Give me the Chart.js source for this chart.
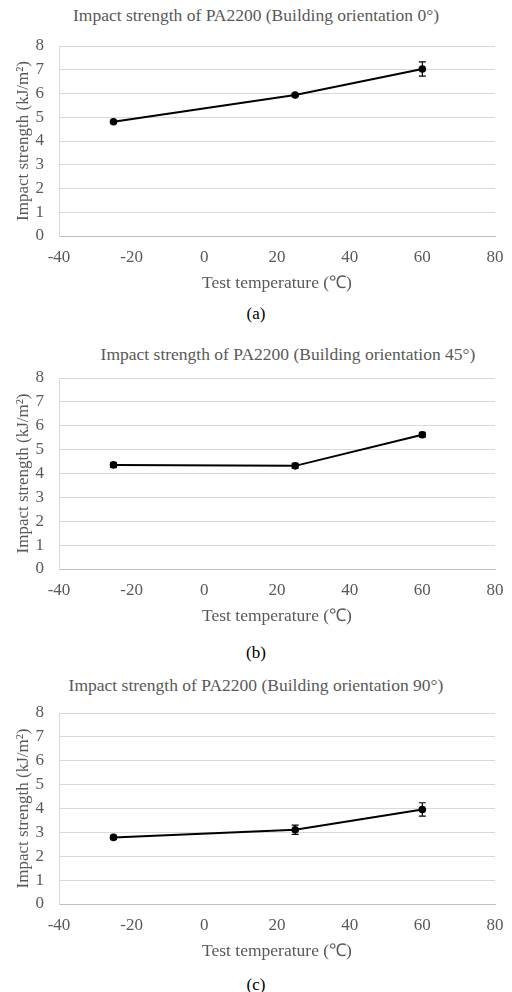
<!DOCTYPE html>
<html>
<head>
<meta charset="utf-8">
<script src="https://cdn.jsdelivr.net/npm/chart.js@4"></script>
<style>
  body { margin: 0; background: #fff; width: 512px; height: 992px; position: relative; overflow: hidden; }
  canvas { position: absolute; left: 0; }
  .title, .caption { position: absolute; left: 0; width: 512px; text-align: center; font-family: "Liberation Serif", serif; white-space: nowrap; line-height: 20px; }
  .title { font-size: 17.5px; color: #595959; }
  .caption { font-size: 17px; color: #000; }
</style>
</head>
<body>
<div class="title" style="top:5px;">Impact strength of PA2200 (Building orientation 0°)</div>
<canvas id="chartA" width="512" height="271" style="top:21px;"></canvas>
<div class="caption" style="top:304px;">(a)</div>

<div class="title" style="top:344px; left:32px;">Impact strength of PA2200 (Building orientation 45°)</div>
<canvas id="chartB" width="512" height="272" style="top:353px;"></canvas>
<div class="caption" style="top:643px;">(b)</div>

<div class="title" style="top:675px;">Impact strength of PA2200 (Building orientation 90°)</div>
<canvas id="chartC" width="512" height="272" style="top:688px;"></canvas>
<div class="caption" style="top:975px;">(c)</div>

<script>
// test temperatures (°C)
const temperatures = [-25, 25, 60];

// impact strength (kJ/m2) and error bars, per building orientation
const strength0 = [4.81, 5.94, 7.03];
const error0 = [0.05, 0.06, 0.30];
const strength45 = [4.36, 4.32, 5.62];
const error45 = [0.10, 0.10, 0.10];
const strength90 = [2.79, 3.11, 3.96];
const error90 = [0.08, 0.19, 0.28];

const xTicks = [-40, -20, 0, 20, 40, 60, 80];
const yTicks = [0, 1, 2, 3, 4, 5, 6, 7, 8];

const textGray = "#595959";
const font = "'Liberation Serif', 'Times New Roman', serif";

// draw vertical error bars with caps using the chart scales
const errorBars = {
    id: "errorBars",
    afterDatasetsDraw(chart) {
        const ctx = chart.ctx;
        const xs = chart.scales.x;
        const ys = chart.scales.y;
        chart.data.datasets.forEach(ds => {
            ds.data.forEach((p, i) => {
                const e = ds.errors[i];
                const x = xs.getPixelForValue(p.x);
                const top = ys.getPixelForValue(p.y + e);
                const bot = ys.getPixelForValue(p.y - e);
                ctx.save();
                ctx.strokeStyle = "#000";
                ctx.lineWidth = 1.2;
                ctx.beginPath();
                ctx.moveTo(x, top); ctx.lineTo(x, bot);
                ctx.moveTo(x - 3.5, top); ctx.lineTo(x + 3.5, top);
                ctx.moveTo(x - 3.5, bot); ctx.lineTo(x + 3.5, bot);
                ctx.stroke();
                ctx.restore();
            });
        });
    }
};

function makeChart(id, values, errors) {
    const points = temperatures.map((t, i) => ({ x: t, y: values[i] }));
    return new Chart(document.getElementById(id), {
        type: "line",
        data: {
            datasets: [{
                data: points,
                errors: errors,
                borderColor: "#000",
                backgroundColor: "#000",
                borderWidth: 2,
                pointRadius: 3.8,
                pointBackgroundColor: "#000",
                pointBorderWidth: 0,
                tension: 0
            }]
        },
        options: {
            responsive: false,
            animation: false,
            layout: { autoPadding: false, padding: { left: 13, right: 17, top: 0, bottom: 0 } },
            plugins: {
                legend: { display: false },
                tooltip: { enabled: false }
            },
            scales: {
                x: {
                    type: "linear",
                    min: xTicks[0],
                    max: xTicks[xTicks.length - 1],
                    afterBuildTicks: axis => { axis.ticks = xTicks.map(v => ({ value: v })); },
                    afterFit: axis => { axis.height = 56; },
                    grid: { display: false, drawTicks: false },
                    border: { display: true, color: "#bfbfbf", width: 1 },
                    ticks: { color: textGray, font: { family: font, size: 17, lineHeight: "40px" }, padding: 2, maxRotation: 0, autoSkip: false },
                    title: {
                        display: true,
                        text: "Test temperature (\u2103)",
                        color: textGray,
                        font: { family: font, size: 17.5, lineHeight: 1 },
                        padding: { top: 0, bottom: 0 }
                    }
                },
                y: {
                    min: yTicks[0],
                    max: yTicks[yTicks.length - 1],
                    afterBuildTicks: axis => { axis.ticks = yTicks.map(v => ({ value: v })); },
                    afterFit: axis => { axis.width = 46; },
                    grid: { color: "#d9d9d9", drawTicks: false },
                    border: { display: true, color: "#d9d9d9", width: 1 },
                    ticks: { color: textGray, font: { family: font, size: 17, lineHeight: "20px" }, padding: 15, autoSkip: false },
                    title: {
                        display: true,
                        text: "Impact strength (kJ/m\u00b2)",
                        color: textGray,
                        font: { family: font, size: 17 },
                        padding: { top: 0, bottom: 0 }
                    }
                }
            }
        },
        plugins: [errorBars]
    });
}

makeChart("chartA", strength0, error0);
makeChart("chartB", strength45, error45);
makeChart("chartC", strength90, error90);
</script>
</body>
</html>
